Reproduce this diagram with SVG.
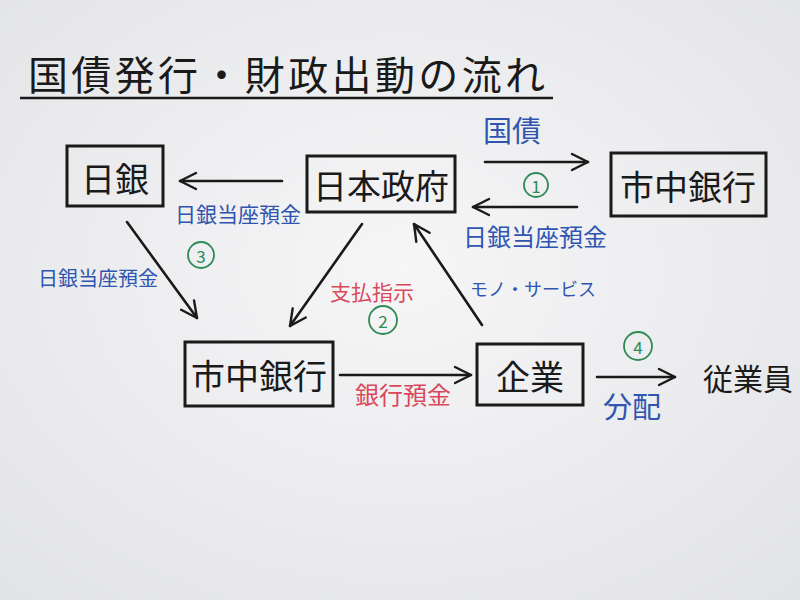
<svg xmlns="http://www.w3.org/2000/svg" width="800" height="600" viewBox="0 0 800 600">
<defs>
<radialGradient id="bg" cx="50%" cy="45%" r="75%">
<stop offset="0" stop-color="#f6f6f7"/>
<stop offset="1" stop-color="#e2e3e6"/>
</radialGradient>
<marker id="ah" viewBox="0 0 20 20" refX="18" refY="10" markerWidth="20" markerHeight="20" markerUnits="userSpaceOnUse" orient="auto">
<polyline points="2,2 18,10 2,18" fill="none" stroke="#1a1a1a" stroke-width="2.4" stroke-linecap="round" stroke-linejoin="round"/>
</marker>
<style>
text{font-family:"Noto Sans CJK JP","Noto Sans",sans-serif;}
.box{fill:none;stroke:#1a1a1a;stroke-width:3;}
.nt{font-size:34px;fill:#1a1a1a;text-anchor:middle;dominant-baseline:central;}
.ln{stroke:#1a1a1a;stroke-width:2.6;fill:none;stroke-linecap:round;marker-end:url(#ah);}
.blue{fill:#2f55b0;}
.red{fill:#d8495c;}
.circ{fill:none;stroke:#2f8a55;stroke-width:1.8;}
.num{fill:#2f8a55;font-size:17px;text-anchor:middle;dominant-baseline:central;}
</style>
</defs>
<rect width="800" height="600" fill="url(#bg)"/>
<g id="title">
<text x="28" y="90" font-size="40" fill="#1a1a1a" textLength="517" lengthAdjust="spacing">国債発行・財政出動の流れ</text>
<line x1="20" y1="98" x2="553" y2="98" stroke="#1a1a1a" stroke-width="2.5"/>
</g>
<g id="node-boj"><rect class="box" x="67" y="146" width="96" height="60"/><text class="nt" x="115" y="177">日銀</text></g>
<g id="node-gov"><rect class="box" x="307" y="156" width="148" height="56"/><text class="nt" x="381" y="184">日本政府</text></g>
<g id="node-bank1"><rect class="box" x="611" y="153" width="155" height="63"/><text class="nt" x="688" y="185">市中銀行</text></g>
<g id="node-bank2"><rect class="box" x="185" y="342" width="148" height="64"/><text class="nt" x="259" y="374">市中銀行</text></g>
<g id="node-corp"><rect class="box" x="477" y="344" width="106" height="61"/><text class="nt" x="530" y="375">企業</text></g>
<g id="node-emp"><text class="nt" x="748" y="377" style="font-size:30px">従業員</text></g>
<g id="connectors">
<line class="ln" x1="282" y1="181" x2="180" y2="181"/>
<line class="ln" x1="485" y1="162" x2="588" y2="162"/>
<line class="ln" x1="577" y1="207" x2="473" y2="207"/>
<line class="ln" x1="127" y1="222" x2="197" y2="318"/>
<line class="ln" x1="362" y1="224" x2="290" y2="326"/>
<line class="ln" x1="482" y1="325" x2="414" y2="224"/>
<line class="ln" x1="340" y1="375" x2="471" y2="375"/>
<line class="ln" x1="597" y1="377" x2="675" y2="377"/>
</g>
<g id="labels">
<text class="blue" x="175" y="222" style="font-size:21px">日銀当座預金</text>
<text class="blue" x="483" y="142" style="font-size:29px">国債</text>
<circle class="circ" cx="536" cy="185" r="12"/><text class="num" x="536" y="185">1</text>
<text class="blue" x="463" y="246" style="font-size:24px">日銀当座預金</text>
<circle class="circ" cx="201" cy="255" r="13"/><text class="num" x="201" y="255">3</text>
<text class="blue" x="38" y="286" style="font-size:20px">日銀当座預金</text>
<text class="red" x="330" y="300" style="font-size:21px">支払指示</text>
<circle class="circ" cx="383" cy="320" r="14"/><text class="num" x="383" y="320">2</text>
<text class="blue" x="470" y="296" style="font-size:18px">モノ・サービス</text>
<text class="red" x="355" y="404" style="font-size:24px">銀行預金</text>
<circle class="circ" cx="638" cy="346" r="14"/><text class="num" x="638" y="346">4</text>
<text class="blue" x="603" y="418" style="font-size:29px">分配</text>
</g>
</svg>
